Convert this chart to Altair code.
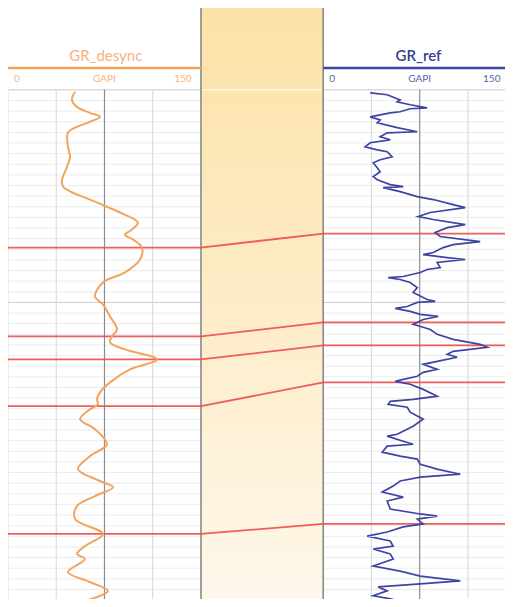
import altair as alt
import pandas as pd

# ---------------- data ----------------
# GR_desync curve (left track): depth (m) and gamma ray (GAPI)
desync_depth = [1400.9, 1404.7, 1408.0, 1410.8, 1412.7, 1415.0, 1417.4, 1420.2, 1426.8, 1431.5,
                1436.2, 1442.3, 1445.5, 1448.4, 1450.7, 1454.0, 1457.7, 1462.4, 1465.7, 1468.1,
                1470.4, 1474.2, 1479.8, 1485.9, 1490.6, 1497.2, 1500.9, 1506.6, 1512.7, 1516.0,
                1518.8, 1522.1, 1526.8, 1531.5, 1537.6, 1542.3, 1545.6, 1547.9, 1550.3, 1554.9,
                1559.6, 1566.7, 1572.3, 1578.4, 1584.0, 1586.9, 1591.1, 1595.8, 1601.9, 1608.9,
                1614.6, 1618.3, 1620.7, 1626.8, 1631.5, 1635.7, 1640.4]
desync_gr = [52.1, 49.7, 53.6, 63.7, 71.5, 63.7, 53.6, 46.6, 46.6, 48.2,
             45.9, 42.0, 42.7, 50.5, 59.8, 73.1, 87.0, 101.0, 96.4, 90.9,
             97.2, 104.1, 102.6, 90.9, 73.8, 67.6, 73.8, 79.3, 84.7, 80.8,
             79.3, 90.9, 115.8, 94.8, 79.3, 71.5, 69.2, 69.9, 63.7, 56.0,
             67.6, 76.9, 63.7, 54.4, 71.5, 81.6, 67.6, 53.6, 52.1, 73.8,
             59.8, 53.6, 59.8, 46.6, 63.7, 77.7, 59.8]

# GR_ref curve (right track)
ref_depth = [1401.4, 1402.3, 1404.7, 1405.6, 1407.0, 1408.5, 1408.9, 1410.3, 1410.8, 1412.7,
             1414.1, 1415.5, 1417.8, 1419.7, 1420.2, 1422.1, 1423.5, 1424.9, 1426.8, 1428.2,
             1429.1, 1431.5, 1432.9, 1434.3, 1436.6, 1438.5, 1440.8, 1442.3, 1444.6, 1445.5,
             1446.0, 1447.9, 1450.2, 1451.6, 1454.0, 1455.4, 1457.7, 1459.6, 1461.0, 1463.4,
             1464.8, 1467.1, 1469.0, 1471.4, 1472.8, 1474.2, 1476.5, 1477.5, 1478.9, 1479.8,
             1481.2, 1483.6, 1484.5, 1485.9, 1487.8, 1488.3, 1489.2, 1490.6, 1493.0, 1495.3,
             1498.6, 1499.5, 1500.0, 1501.9, 1502.8, 1504.2, 1505.6, 1506.6, 1508.0, 1510.3,
             1511.7, 1512.7, 1515.0, 1517.4, 1519.7, 1521.1, 1523.0, 1524.4, 1525.8, 1527.7,
             1529.1, 1531.5, 1532.9, 1534.7, 1536.2, 1537.1, 1538.5, 1540.9, 1544.1, 1545.6,
             1546.5, 1547.9, 1549.3, 1551.6, 1554.9, 1558.2, 1562.0, 1562.9, 1565.3, 1566.7,
             1567.6, 1570.4, 1572.3, 1573.7, 1576.1, 1578.4, 1580.8, 1582.2, 1584.0, 1586.4,
             1589.2, 1591.6, 1593.4, 1597.2, 1599.5, 1600.5, 1601.9, 1604.2, 1605.6, 1608.0,
             1609.9, 1612.2, 1614.6, 1616.0, 1618.3, 1620.7, 1624.0, 1626.4, 1628.7, 1631.0,
             1632.4, 1633.8, 1635.7, 1638.0, 1639.4, 1641.8]
ref_gr = [36.5, 49.7, 59.8, 57.5, 67.6, 80.8, 67.6, 59.8, 52.1, 36.5,
          44.3, 42.0, 57.5, 73.1, 49.7, 44.3, 52.1, 36.5, 32.6, 42.0,
          49.7, 53.6, 44.3, 38.9, 42.0, 44.3, 38.9, 42.0, 52.1, 62.2,
          46.6, 59.8, 73.1, 85.5, 101.0, 110.4, 83.2, 73.8, 85.5, 110.4,
          96.4, 87.0, 90.9, 122.0, 101.0, 93.3, 85.5, 77.7, 96.4, 110.4,
          88.6, 90.9, 80.8, 75.4, 62.2, 50.5, 59.8, 67.6, 73.1, 69.9,
          80.8, 87.0, 73.1, 65.3, 56.0, 67.6, 75.4, 89.4, 77.7, 69.9,
          77.7, 83.2, 88.6, 101.0, 122.0, 127.5, 101.0, 96.4, 104.1, 88.6,
          77.7, 88.6, 77.7, 73.1, 62.2, 56.0, 67.6, 77.7, 88.6, 69.9,
          52.1, 50.5, 65.3, 67.6, 77.7, 69.9, 57.5, 49.7, 62.2, 69.9,
          49.7, 45.9, 59.8, 73.1, 75.4, 88.6, 106.5, 75.4, 59.8, 54.4,
          45.9, 62.2, 49.7, 52.1, 75.4, 88.6, 73.1, 77.7, 62.2, 49.7,
          34.2, 52.1, 54.4, 38.9, 52.1, 54.4, 38.9, 59.8, 75.4, 106.5,
          75.4, 42.7, 49.7, 38.9, 52.1, 67.6]

# correlation ties: depth on GR_desync -> depth on GR_ref
tie_left = [1474.2, 1516.0, 1526.8, 1548.8, 1608.9]
tie_right = [1467.6, 1509.4, 1520.2, 1537.6, 1604.2]

# track scale labels
scale_labels = ["0", "GAPI", "150"]
scale_label_pos_left = [7, 75, 136]
scale_label_pos_right = [7, 75, 131]
track_titles = ["GR_desync", "GR_ref"]

# ---------------- layout constants ----------------
TRACK = 150.0          # GAPI span of a track
RIGHT_OFF = 245.0      # where the right track starts (track units)
X_MAX = 386.3
D_TOP, D_BOT = 1361.5, 1639.5
W, H = 497, 591

ORANGE = "#f2a45c"
ORANGE_TXT = "#f6b27e"
BLUE = "#3d44a4"
BLUE_TXT = "#34428f"
RED = "#ef4b4b"

xs = alt.Scale(domain=[0, X_MAX], nice=False, zero=False)
ys = alt.Scale(domain=[D_TOP, D_BOT], reverse=True, nice=False, zero=False)


def X(f):
    return alt.X(f, type="quantitative", scale=xs, axis=None)


def Y(f):
    return alt.Y(f, type="quantitative", scale=ys, axis=None)


# ---------------- correlation panel background ----------------
gradient = {
    "gradient": "linear", "x1": 0, "y1": 0, "x2": 0, "y2": 1,
    "stops": [
        {"offset": 0, "color": "#fce2a6"},
        {"offset": 0.5, "color": "#fdecc8"},
        {"offset": 1, "color": "#fef7ea"},
    ],
}
panel = alt.Chart(pd.DataFrame({"a": [TRACK], "b": [RIGHT_OFF], "d0": [D_TOP], "d1": [D_BOT]})).mark_rect(
    fill=gradient
).encode(x=X("a"), x2="b", y=Y("d0"), y2="d1")

# ---------------- grid ----------------
grid_depths = list(range(1400, 1645, 5))
hrows = []
for d in grid_depths:
    col = "#cacaca" if d in (1400, 1500) else "#ececec"
    hrows.append({"a": 0, "b": TRACK, "d": d, "c": col})
    hrows.append({"a": RIGHT_OFF, "b": X_MAX, "d": d, "c": col})
hrows.append({"a": TRACK, "b": RIGHT_OFF, "d": 1400, "c": "#ffffff"})
hgrid = alt.Chart(pd.DataFrame(hrows)).mark_rule(strokeWidth=1, clip=True).encode(
    x=X("a"), x2="b", y=Y("d"), color=alt.Color("c:N", scale=None)
)

vrows = []
for off in (0.0, RIGHT_OFF):
    for g, col in ((0, "#e2e2e2"), (37.5, "#dcdcdc"), (75, "#8c8c8c"), (112.5, "#dcdcdc")):
        if off == RIGHT_OFF and g == 0:
            continue
        vrows.append({"x": off + g, "d0": 1400, "d1": D_BOT, "c": col, "w": 1.2})
for xb in (TRACK, RIGHT_OFF):
    vrows.append({"x": xb, "d0": D_TOP, "d1": D_BOT, "c": "#8a8a8a", "w": 1.6})
vgrid = alt.Chart(pd.DataFrame(vrows)).mark_rule(clip=True).encode(
    x=X("x"), y=Y("d0"), y2="d1",
    color=alt.Color("c:N", scale=None),
    strokeWidth=alt.StrokeWidth("w:Q", scale=None),
)

# ---------------- header ----------------
hdr_rule = alt.Chart(pd.DataFrame({
    "a": [0, RIGHT_OFF], "b": [TRACK, X_MAX], "c": [ORANGE, BLUE]
})).mark_rule(strokeWidth=2.4, clip=True).encode(
    x=X("a"), x2="b", y=alt.value(60), color=alt.Color("c:N", scale=None)
)

title_left = alt.Chart(pd.DataFrame({"t": [track_titles[0]], "x": [76]})).mark_text(
    font="Lato", fontSize=15, baseline="middle", align="center", color=ORANGE_TXT
).encode(x=X("x"), y=alt.value(48), text="t:N")

title_right = alt.Chart(pd.DataFrame({"t": [track_titles[1]], "x": [RIGHT_OFF + 74]})).mark_text(
    font="Lato", fontSize=15, fontWeight=600, baseline="middle", align="center", color=BLUE_TXT
).encode(x=X("x"), y=alt.value(48), text="t:N")

lab_rows = []
for off, col, pos in ((0.0, ORANGE_TXT, scale_label_pos_left), (RIGHT_OFF, "#5563ad", scale_label_pos_right)):
    for t, p in zip(scale_labels, pos):
        lab_rows.append({"t": t, "x": off + p, "c": col})
labels = alt.Chart(pd.DataFrame(lab_rows)).mark_text(
    font="Lato", fontSize=10, baseline="middle", align="center"
).encode(x=X("x"), y=alt.value(71), text="t:N", color=alt.Color("c:N", scale=None))

# ---------------- correlation ties ----------------
trows = []
for i, (l, r) in enumerate(zip(tie_left, tie_right)):
    trows += [
        {"id": i, "x": 0, "d": l},
        {"id": i, "x": TRACK, "d": l},
        {"id": i, "x": RIGHT_OFF, "d": r},
        {"id": i, "x": RIGHT_OFF + TRACK, "d": r},
    ]
ties = alt.Chart(pd.DataFrame(trows)).mark_line(color=RED, strokeWidth=1.8, opacity=0.9, clip=True).encode(
    x=X("x"), y=Y("d"), detail="id:N", order="x:Q"
)

# ---------------- curves ----------------
left_curve = alt.Chart(pd.DataFrame({"depth": desync_depth, "gr": desync_gr})).mark_line(
    color=ORANGE, strokeWidth=2, interpolate="catmull-rom", clip=True
).encode(x=X("gr"), y=Y("depth"), order="depth:Q")

right_curve = alt.Chart(pd.DataFrame({"depth": ref_depth, "gr": ref_gr})).transform_calculate(
    xr=alt.datum.gr + RIGHT_OFF
).mark_line(color=BLUE, strokeWidth=1.7, clip=True).encode(
    x=X("xr"), y=Y("depth"), order="depth:Q"
)

chart = alt.layer(
    panel, hgrid, vgrid, hdr_rule, ties, left_curve, right_curve, title_left, title_right, labels
).properties(width=W, height=H, padding=0, autosize="none").configure_view(stroke=None)

chart.save("out.html", embed_options={"renderer": "svg", "actions": False})
